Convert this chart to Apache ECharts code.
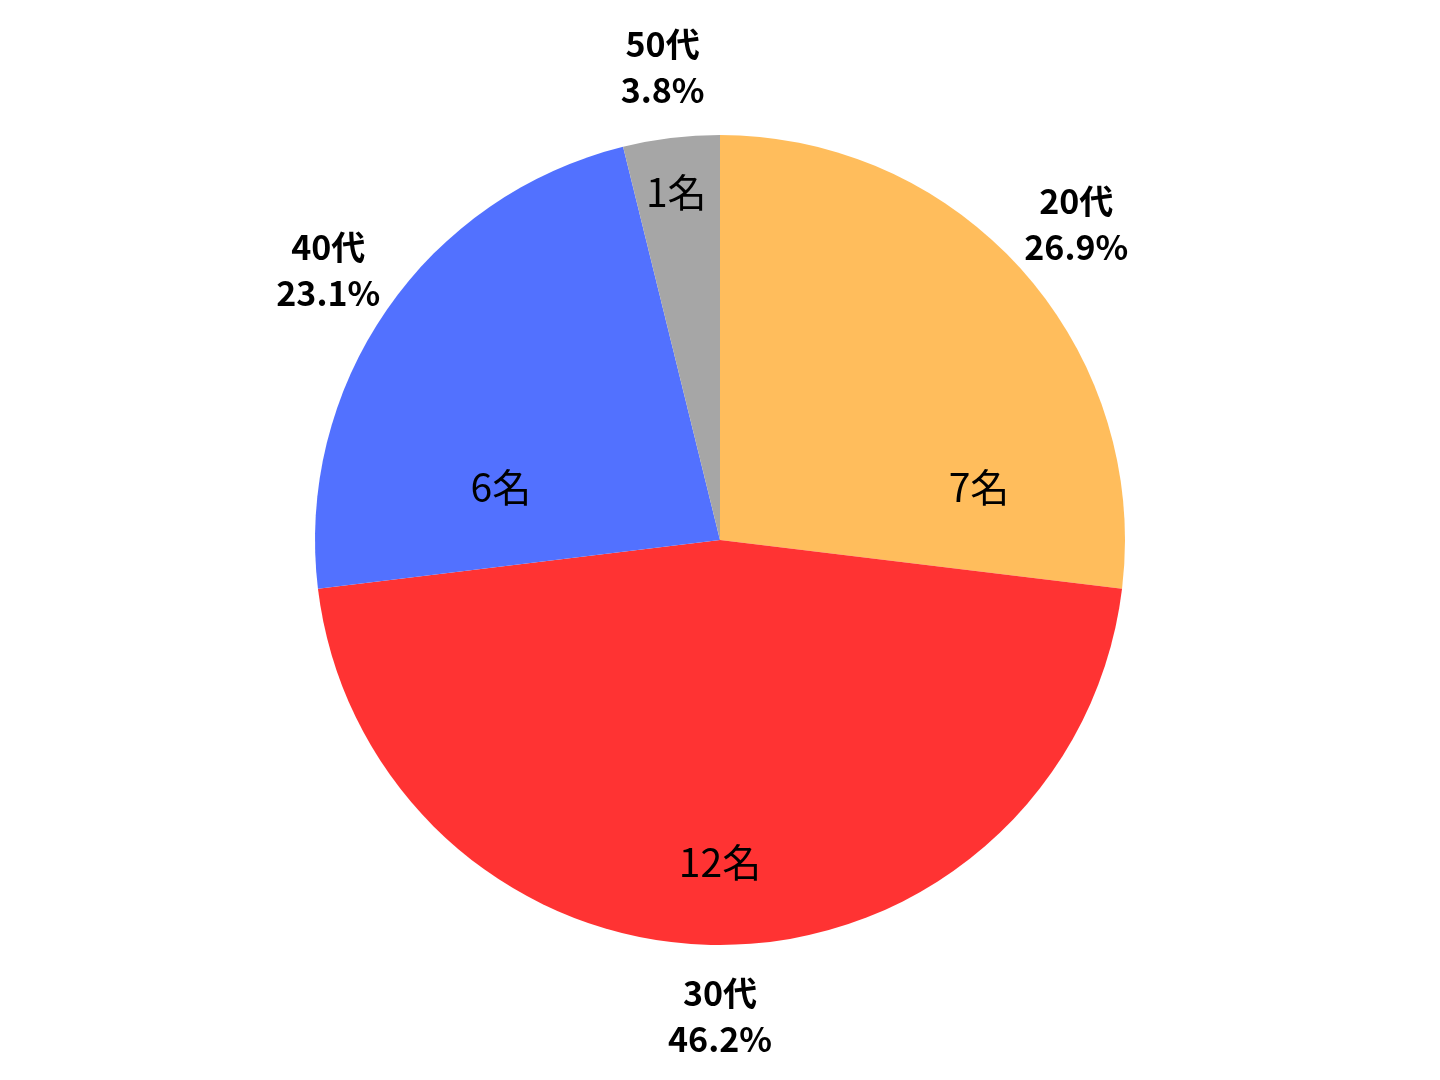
<!DOCTYPE html>
<html>
<head>
<meta charset="utf-8">
<style>html,body{margin:0;padding:0;background:#fff;}#chart{width:1440px;height:1080px;}</style>
<script src="https://cdn.jsdelivr.net/npm/echarts@6/dist/echarts.min.js"></script>
</head>
<body>
<div id="chart"></div>
<script>
const categories = ['20代', '30代', '40代', '50代'];
const counts = [7, 12, 6, 1];
const colors = ['#FFBD5C', '#FF3333', '#5271FF', '#A6A6A6'];
const countUnit = '名';

const innerShift = [[6, 171], [0, -16], [59, 139], [-3, -12]];
const total = counts.reduce((a, b) => a + b, 0);
const data = categories.map((c, i) => ({ name: c, value: counts[i], itemStyle: { color: colors[i] } }));
const clearData = categories.map((c, i) => ({ name: c, value: counts[i] }));
const font = '"Noto Sans CJK JP", "Noto Sans", sans-serif';

const chart = echarts.init(document.getElementById('chart'), null, { renderer: 'canvas' });
chart.setOption({
  backgroundColor: '#ffffff',
  animation: false,
  series: [
    {
      type: 'pie', center: ['50%', '50%'], radius: [0, 405], startAngle: 90, clockwise: true,
      silent: true, label: { show: false }, labelLine: { show: false },
      itemStyle: { borderWidth: 0 }, data: data
    },
    {
      type: 'pie', center: ['50%', '50%'], radius: [270, 400], startAngle: 90, clockwise: true,
      silent: true, itemStyle: { color: 'rgba(0,0,0,0)', borderWidth: 0 },
      labelLine: { show: false },
      label: { show: true, position: 'inside', formatter: p => p.value + countUnit,
        fontFamily: font, fontSize: 39, color: '#000', overflow: 'none' },
      labelLayout: p => ({ dx: innerShift[p.dataIndex][0], dy: innerShift[p.dataIndex][1] }),
      data: clearData
    },
    {
      type: 'pie', center: ['50%', '50%'], radius: [405, 541], startAngle: 90, clockwise: true,
      silent: true, itemStyle: { color: 'rgba(0,0,0,0)', borderWidth: 0 },
      labelLine: { show: false },
      label: { show: true, position: 'inside', overflow: 'none',
        formatter: p => p.name + '\n' + (p.value / total * 100).toFixed(1) + '%',
        fontFamily: font, fontSize: 34, fontWeight: 'bold', lineHeight: 46, color: '#000' },
      data: clearData
    }
  ]
});
</script>
</body>
</html>
